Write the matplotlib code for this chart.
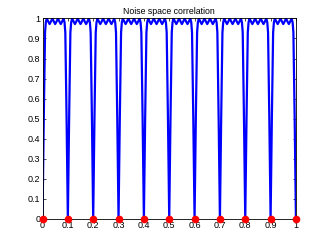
import numpy as np
import matplotlib
matplotlib.use("Agg")
import matplotlib.pyplot as plt

plt.rcParams["font.family"] = ["Liberation Sans", "DejaVu Sans"]

# one period of the correlation curve (offset within period, value)
period_offsets = [0.000, 0.005, 0.010, 0.013, 0.017, 0.0225, 0.028, 0.0335, 0.039, 0.0445,
                  0.050, 0.0555, 0.061, 0.0665, 0.072, 0.0775, 0.083, 0.087, 0.090, 0.095]
period_values = [0.00, 0.50, 0.93, 0.98, 1.00, 0.985, 0.972, 0.985, 1.00, 0.985,
                 0.972, 0.985, 1.00, 0.985, 0.972, 0.985, 1.00, 0.98, 0.93, 0.50]
period = 0.1
n_periods = 10

# red markers at the zeros
zero_x = [0, 0.1, 0.2, 0.3, 0.4, 0.5, 0.6, 0.7, 0.8, 0.9, 1.0]
zero_y = [0] * len(zero_x)

xticks = [0, 0.1, 0.2, 0.3, 0.4, 0.5, 0.6, 0.7, 0.8, 0.9, 1]
xticklabels = ["0", "0.1", "0.2", "0.3", "0.4", "0.5", "0.6", "0.7", "0.8", "0.9", "1"]
yticks = [0, 0.1, 0.2, 0.3, 0.4, 0.5, 0.6, 0.7, 0.8, 0.9, 1]
yticklabels = ["0", "0.1", "0.2", "0.3", "0.4", "0.5", "0.6", "0.7", "0.8", "0.9", "1"]

x = []
y = []
for k in range(n_periods):
    for off, v in zip(period_offsets, period_values):
        x.append(k * period + off)
        y.append(v)
x.append(1.0)
y.append(0.0)

fig = plt.figure(figsize=(3.27, 2.46), dpi=100)
ax = fig.add_axes([0.13, 0.11, 0.775, 0.815])

ax.plot(x, y, color="#0000ff", linewidth=1.6)
ax.plot(zero_x, zero_y, "o", color="#ff0000", markersize=4.5, clip_on=False, zorder=5)

ax.set_xlim(0, 1)
ax.set_ylim(0, 1)
ax.set_xticks(xticks)
ax.set_xticklabels(xticklabels)
ax.set_yticks(yticks)
ax.set_yticklabels(yticklabels)
ax.tick_params(direction="in", length=2, width=0.5, labelsize=6.5, pad=1.5,
               top=True, right=True)
for s in ax.spines.values():
    s.set_linewidth(0.6)
ax.set_title("Noise space correlation", fontsize=6.3, pad=3)

fig.savefig("out.png", dpi=100)
